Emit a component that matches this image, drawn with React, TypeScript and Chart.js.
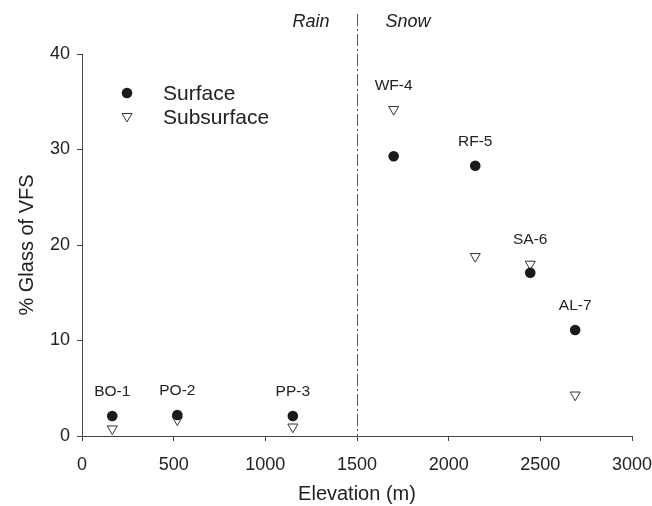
import React, { useEffect, useRef } from "react";
import { Chart, registerables } from "chart.js";

Chart.register(...registerables);

const sites = ["BO-1", "PO-2", "PP-3", "WF-4", "RF-5", "SA-6", "AL-7"];
const elevation = [165, 520, 1150, 1700, 2145, 2445, 2690];
const surface = [2.1, 2.2, 2.1, 29.3, 28.3, 17.1, 11.1];
const subsurface = [0.75, 1.7, 0.95, 34.2, 18.8, 18.0, 4.3];
const xTicks = [0, 500, 1000, 1500, 2000, 2500, 3000];
const yTicks = [0, 10, 20, 30, 40];
const boundaryElevation = 1500;
const zoneLabels = ["Rain", "Snow"];
const seriesNames = ["Surface", "Subsurface"];

const FONT = "'Liberation Sans', Arial, sans-serif";
const INK = "#222";
const AXIS = "#444";

const overlay = {
  id: "overlay",
  afterDraw(chart: any) {
    const ctx = chart.ctx;
    const xs = chart.scales.x;
    const ys = chart.scales.y;
    const area = chart.chartArea;
    ctx.save();
    // dash-dot boundary line
    const bx = Math.round(xs.getPixelForValue(boundaryElevation)) + 0.5;
    ctx.strokeStyle = "#555";
    ctx.lineWidth = 1;
    ctx.setLineDash([12, 3, 2, 3]);
    ctx.beginPath();
    ctx.moveTo(bx, 14);
    ctx.lineTo(bx, area.bottom);
    ctx.stroke();
    ctx.setLineDash([]);
    // zone labels
    ctx.fillStyle = INK;
    ctx.font = `italic 18px ${FONT}`;
    ctx.textBaseline = "middle";
    ctx.textAlign = "right";
    ctx.fillText(zoneLabels[0], bx - 28, 22);
    ctx.textAlign = "left";
    ctx.fillText(zoneLabels[1], bx + 28, 22);
    // site labels
    ctx.font = `15.5px ${FONT}`;
    ctx.textAlign = "center";
    for (let i = 0; i < sites.length; i++) {
      const px = xs.getPixelForValue(elevation[i]);
      const top = Math.min(ys.getPixelForValue(surface[i]), ys.getPixelForValue(subsurface[i]));
      ctx.fillText(sites[i], px, top - 24);
    }
    // legend
    const lx = 127;
    ctx.fillStyle = "#1a1a1a";
    ctx.beginPath();
    ctx.arc(lx, 93, 5.3, 0, Math.PI * 2);
    ctx.fill();
    ctx.fillStyle = "#fff";
    ctx.strokeStyle = "#333";
    ctx.beginPath();
    ctx.moveTo(lx - 5, 113.5);
    ctx.lineTo(lx + 5, 113.5);
    ctx.lineTo(lx, 122);
    ctx.closePath();
    ctx.fill();
    ctx.stroke();
    ctx.fillStyle = INK;
    ctx.font = `21px ${FONT}`;
    ctx.textAlign = "left";
    ctx.fillText(seriesNames[0], 163, 94);
    ctx.fillText(seriesNames[1], 163, 118);
    // axis titles
    ctx.font = `20px ${FONT}`;
    ctx.textAlign = "center";
    ctx.fillText("Elevation (m)", (area.left + area.right) / 2, 494);
    ctx.translate(27, (area.top + area.bottom) / 2);
    ctx.rotate(-Math.PI / 2);
    ctx.fillText("% Glass of VFS", 0, 0);
    ctx.restore();
  },
};

export default function App() {
  const ref = useRef<HTMLCanvasElement>(null);
  useEffect(() => {
    const chart = new Chart(ref.current!, {
      type: "scatter",
      data: {
        datasets: [
          {
            label: seriesNames[0],
            data: elevation.map((x, i) => ({ x, y: surface[i] })),
            pointStyle: "circle",
            pointRadius: 5.3,
            backgroundColor: "#1a1a1a",
            borderColor: "#1a1a1a",
            borderWidth: 0,
          },
          {
            label: seriesNames[1],
            data: elevation.map((x, i) => ({ x, y: subsurface[i] })),
            pointStyle: "triangle",
            rotation: 180,
            pointRadius: 5.8,
            backgroundColor: "#fff",
            borderColor: "#333",
            borderWidth: 1,
          },
        ],
      },
      options: {
        animation: false,
        responsive: false,
        layout: { padding: { top: 54, right: 20, left: 0, bottom: 0 } },
        plugins: { legend: { display: false }, tooltip: { enabled: false } },
        scales: {
          x: {
            type: "linear",
            min: 0,
            max: 3000,
            afterFit: (s: any) => { s.height = 70; s.paddingLeft = 0; s.paddingRight = 0; },
            afterBuildTicks: (s: any) => { s.ticks = xTicks.map((v) => ({ value: v })); },
            grid: { display: true, drawOnChartArea: false, drawTicks: true, tickLength: 5, color: AXIS },
            border: { display: true, color: AXIS, width: 1 },
            ticks: { color: INK, font: { family: FONT, size: 18 }, padding: 13, maxRotation: 0, callback: (v: any) => String(v) },
          },
          y: {
            type: "linear",
            min: 0,
            max: 40,
            afterFit: (s: any) => { s.width = 82; s.paddingTop = 0; s.paddingBottom = 0; },
            afterBuildTicks: (s: any) => { s.ticks = yTicks.map((v) => ({ value: v })); },
            grid: { display: true, drawOnChartArea: false, drawTicks: true, tickLength: 5, color: AXIS },
            border: { display: true, color: AXIS, width: 1 },
            ticks: { color: INK, font: { family: FONT, size: 18 }, padding: 7, callback: (v: any) => String(v) },
          },
        },
      },
      plugins: [overlay],
    });
    return () => chart.destroy();
  }, []);
  return (
    <div style={{ position: "fixed", left: 0, top: 0, width: 652, height: 506, background: "#fff" }}>
      <canvas ref={ref} width={652} height={506} />
    </div>
  );
}
